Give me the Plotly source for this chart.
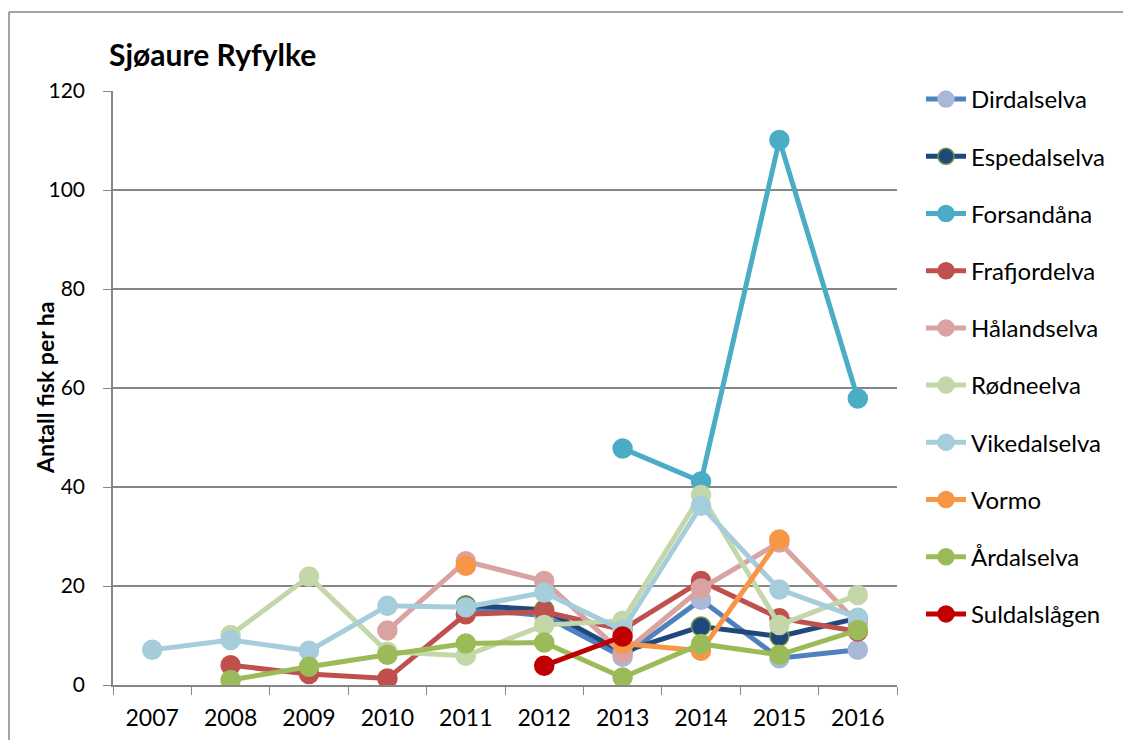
import plotly.graph_objects as go

years = ['2007', '2008', '2009', '2010', '2011', '2012', '2013', '2014', '2015', '2016']

# antall fisk per ha, None = ikke undersøkt
dirdalselva   = [None, None, None, None, 15.5, 14.0, 5.7, 17.2, 5.4, 7.1]
espedalselva  = [None, None, None, None, 16.1, 15.2, 6.7, 11.8, 9.8, 13.5]
forsandana    = [None, None, None, None, None, None, 47.8, 41.1, 110.1, 57.9]
frafjordelva  = [None, 4.0, 2.2, 1.3, 14.3, 14.8, 11.2, 21.0, 13.5, 10.8]
halandselva   = [None, None, None, 11.0, 25.0, 21.0, 6.4, 19.5, 28.8, 12.5]
rodneelva     = [None, 10.1, 21.9, 6.7, 5.9, 12.1, 13.0, 38.4, 12.1, 18.2]
vikedalselva  = [7.1, 9.1, 6.9, 16.0, 15.7, 18.7, 11.1, 36.2, 19.3, 13.6]
vormo         = [None, None, None, None, 24.1, None, 8.4, 6.9, 29.4, None]
ardalselva    = [None, 1.0, 3.7, 6.1, 8.4, 8.6, 1.5, 8.3, 6.1, 11.1]
suldalslagen  = [None, None, None, None, None, 3.9, 9.8, None, None, None]

series = [
    ('Dirdalselva', dirdalselva, '#4F81BD', '#A9B8D9', '#A9B8D9'),
    ('Espedalselva', espedalselva, '#1F497D', '#1F497D', '#77933C'),
    ('Forsandåna', forsandana, '#4BACC6', '#4BACC6', '#4BACC6'),
    ('Frafjordelva', frafjordelva, '#C0504D', '#C0504D', '#C0504D'),
    ('Hålandselva', halandselva, '#D9A3A2', '#D9A3A2', '#D9A3A2'),
    ('Rødneelva', rodneelva, '#C4D7A8', '#C4D7A8', '#C4D7A8'),
    ('Vikedalselva', vikedalselva, '#A5CDDB', '#A5CDDB', '#A5CDDB'),
    ('Vormo', vormo, '#F79646', '#F79646', '#F79646'),
    ('Årdalselva', ardalselva, '#9BBB59', '#9BBB59', '#9BBB59'),
    ('Suldalslågen', suldalslagen, '#C00000', '#C00000', '#C00000'),
]

fnt = 'Lato, Open Sans, sans-serif'

fig = go.Figure()
for name, vals, lc, mc, edge in series:
    fig.add_trace(go.Scatter(
        x=years, y=vals, name=name, mode='lines+markers',
        legendgroup=name, connectgaps=False,
        line=dict(color=lc, width=5),
        marker=dict(size=19, color=mc, line=dict(color=edge, width=1.5)),
    ))

# siden har 8 px marg i body, derfor 1123x732
W, H = 1123, 732
grey = '#868686'
fig.update_layout(
    width=W, height=H,
    margin=dict(l=105, r=234, t=83, b=55, autoexpand=False),
    paper_bgcolor='white', plot_bgcolor='white',
    font=dict(family=fnt, size=22, color='black'),
    title=dict(text='<b>Sjøaure Ryfylke</b>', x=101/W, xanchor='left',
               y=1 - 47/H, yanchor='middle', font=dict(size=30)),
    showlegend=True,
    legend=dict(x=(921 - 113)/784, xanchor='left', y=1.0 + 14/594, yanchor='top',
                traceorder='grouped', tracegroupgap=23, maxheight=1.0,
                font=dict(size=24), itemwidth=40),
    xaxis=dict(type='category', range=[-0.5, 9.5], tickson='boundaries',
               ticks='outside', ticklen=8, tickcolor=grey, ticklabelstandoff=12,
               showline=True, linecolor=grey, linewidth=1.5,
               showgrid=False, tickfont=dict(size=23)),
    yaxis=dict(range=[0, 120], dtick=20, ticks='outside', ticklen=8,
               tickcolor=grey, showline=True, linecolor=grey, linewidth=1.5,
               showgrid=True, gridcolor=grey, gridwidth=1.5, zeroline=False,
               ticklabelstandoff=14, tickfont=dict(size=21)),
)

fig.add_annotation(text='<b>Antall fisk per ha</b>', textangle=-90,
                   xref='paper', yref='paper', x=(45 - 113)/784, y=0.5,
                   xanchor='center', yanchor='middle',
                   showarrow=False, font=dict(size=23))

# ramme rundt diagrammet
fig.add_shape(type='line', xref='paper', yref='paper',
              x0=-104/784, x1=-104/784, y0=-0.2, y1=673/594,
              line=dict(color=grey, width=1.5))
fig.add_shape(type='line', xref='paper', yref='paper',
              x0=-104/784, x1=1.5, y0=673/594, y1=673/594,
              line=dict(color=grey, width=1.5))

fig.write_html("out.html")
